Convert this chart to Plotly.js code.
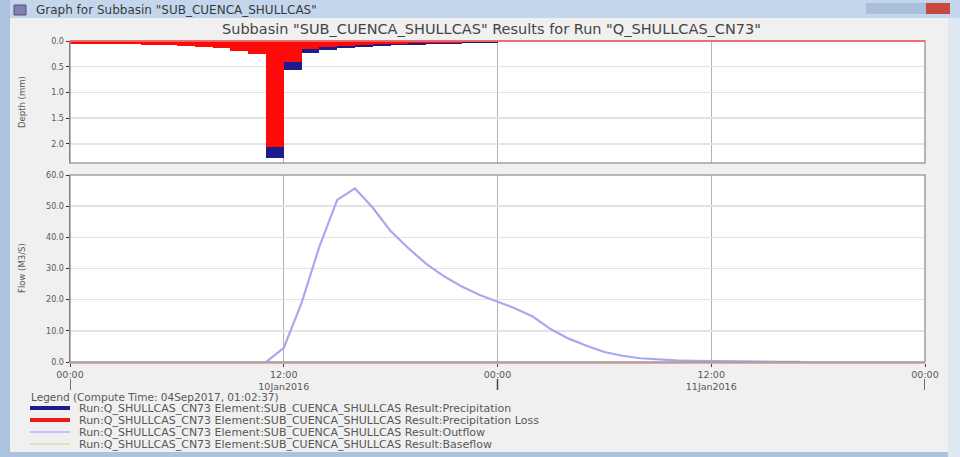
<!DOCTYPE html>
<html>
<head>
<meta charset="utf-8">
<script src="https://cdn.plot.ly/plotly-3.0.1.min.js"></script>
<style>
  html, body { margin: 0; padding: 0; background: #f0f0f0; }
  #chart { width: 960px; height: 457px; }
</style>
</head>
<body>
<div id="chart"></div>
<script>
// Hourly precipitation and precipitation loss (mm), hour 0 = 10Jan2016 00:00
const precipHours = [0, 1, 2, 3, 4, 5, 6, 7, 8, 9, 10, 11, 12, 13, 14, 15, 16, 17, 18, 19, 20, 21, 22, 23];
const precipitation = [0.05, 0.05, 0.06, 0.06, 0.07, 0.08, 0.09, 0.11, 0.14, 0.19, 0.26, 2.27,
                       0.56, 0.23, 0.17, 0.13, 0.11, 0.09, 0.08, 0.07, 0.06, 0.05, 0.04, 0.03];
const precipLoss    = [0.05, 0.05, 0.06, 0.06, 0.07, 0.08, 0.09, 0.11, 0.14, 0.19, 0.26, 2.05,
                       0.40, 0.15, 0.12, 0.09, 0.07, 0.06, 0.05, 0.045, 0.04, 0.03, 0.025, 0.02];

// Outflow hydrograph (m3/s)
const flowHours = [11, 12, 13, 14, 15, 16, 17, 18, 19, 20, 21, 22, 23, 24, 25, 26,
                   27, 28, 29, 30, 31, 32, 33, 34, 35, 36, 37, 38, 39, 40, 41];
const outflow = [0, 4.5, 19.0, 37.0, 52.0, 55.7, 49.5, 42.0, 36.5, 31.5, 27.5, 24.2, 21.5, 19.3, 17.2, 14.5,
                 10.5, 7.5, 5.2, 3.2, 2.0, 1.2, 0.8, 0.5, 0.35, 0.25, 0.18, 0.12, 0.08, 0.05, 0.03];

// Baseflow (m3/s)
const baseflowHours = [0, 48];
const baseflow = [0, 0];

// Axis ticks
const timeTicks = [0, 12, 24, 36, 48];
const timeLabels = ['00:00', '12:00<br>10Jan2016', '00:00', '12:00<br>11Jan2016', '00:00'];
const dayBoundaries = [0, 24, 48];
const depthTicks = [0, 0.5, 1.0, 1.5, 2.0];
const depthLabels = ['0.0', '0.5', '1.0', '1.5', '2.0'];
const flowTicks = [0, 10, 20, 30, 40, 50, 60];
const flowLabels = ['0.0', '10.0', '20.0', '30.0', '40.0', '50.0', '60.0'];

const runName = 'Run:Q_SHULLCAS_CN73 Element:SUB_CUENCA_SHULLCAS Result:';
const legendItems = ['Precipitation', 'Precipitation Loss', 'Outflow', 'Baseflow'];
const legendColors = ['#1c1c8c', '#f01818', '#b4b4f0', '#dcdcaa'];
const legendWidths = [4, 4, 1.5, 1.5];

// ---- helpers ----
const W = 960, H = 457;
const px = x => x / W;
const py = y => 1 - y / H;
const T0 = Date.UTC(2016, 0, 10);
const at = h => new Date(T0 + h * 3600000).toISOString().replace('T', ' ').slice(0, 19);

const FONT = 'DejaVu Sans, Verdana, sans-serif';
const TXT = '#585858';

const traces = [
  {
    type: 'bar', x: precipHours.map(h => at(h + 0.5)), y: precipitation,
    width: 3600000, marker: { color: '#1c1c8c', line: { width: 0 } },
    xaxis: 'x', yaxis: 'y', name: 'Precipitation', hoverinfo: 'x+y'
  },
  {
    type: 'bar', x: precipHours.map(h => at(h + 0.5)), y: precipLoss,
    width: 3600000, marker: { color: '#ff0a0a', line: { width: 0 } },
    xaxis: 'x', yaxis: 'y', name: 'Precipitation Loss', hoverinfo: 'x+y'
  },
  {
    type: 'scatter', mode: 'lines', x: baseflowHours.map(at), y: baseflow,
    line: { color: '#dcdcaa', width: 1 }, xaxis: 'x2', yaxis: 'y2', name: 'Baseflow'
  },
  {
    type: 'scatter', mode: 'lines', x: flowHours.map(at), y: outflow,
    line: { color: '#a8a8ee', width: 2.2 }, xaxis: 'x2', yaxis: 'y2', name: 'Outflow'
  }
];

const xCommon = {
  type: 'date', range: [at(0), at(48)], domain: [px(70), px(925)],
  tickvals: timeTicks.map(at), showgrid: true, gridcolor: '#b4b4b4', gridwidth: 1,
  zeroline: false, fixedrange: true
};

const shapes = [
  // window chrome
  { type: 'rect', xref: 'paper', yref: 'paper', x0: 0, x1: 1, y0: py(18), y1: 1, fillcolor: '#c4d6ec', line: { width: 0 }, layer: 'below' },
  { type: 'rect', xref: 'paper', yref: 'paper', x0: 0, x1: px(10), y0: 0, y1: 1, fillcolor: '#abc3df', line: { width: 0 }, layer: 'below' },
  { type: 'rect', xref: 'paper', yref: 'paper', x0: 0, x1: 1, y0: 0, y1: py(452), fillcolor: '#abc3df', line: { width: 0 }, layer: 'below' },
  { type: 'rect', xref: 'paper', yref: 'paper', x0: px(948), x1: 1, y0: 0, y1: py(18), fillcolor: '#dfe7f1', line: { width: 0 }, layer: 'below' },
  { type: 'rect', xref: 'paper', yref: 'paper', x0: px(866), x1: px(926), y0: py(14), y1: py(3), fillcolor: '#a9bfdc', line: { width: 0 }, layer: 'below' },
  { type: 'rect', xref: 'paper', yref: 'paper', x0: px(926), x1: px(950), y0: py(14), y1: py(3), fillcolor: '#c8473e', line: { width: 0 }, layer: 'below' },
  { type: 'rect', xref: 'paper', yref: 'paper', x0: px(14), x1: px(26), y0: py(15), y1: py(5), fillcolor: '#7f7fb0', line: { color: '#505080', width: 1 }, layer: 'below' },
  // plot frames
  { type: 'rect', xref: 'paper', yref: 'paper', x0: px(70), x1: px(925), y0: py(163), y1: py(41), line: { color: '#a0a0a0', width: 1.5 }, layer: 'above' },
  { type: 'rect', xref: 'paper', yref: 'paper', x0: px(70), x1: px(925), y0: py(362), y1: py(175), line: { color: '#a0a0a0', width: 1.5 }, layer: 'above' },
  // zero line of the depth panel
  { type: 'line', xref: 'paper', yref: 'paper', x0: px(70), x1: px(925), y0: py(41), y1: py(41), line: { color: '#ff5a5a', width: 1.5 }, layer: 'above' }
];

// day separators below the time axis
dayBoundaries.forEach(h => {
  shapes.push({ type: 'line', xref: 'x2', yref: 'paper', x0: at(h), x1: at(h), y0: py(390), y1: py(379), line: { color: '#444', width: 1.5 } });
});

// legend line samples
const legendY = [408, 420, 432, 444];
legendItems.forEach((item, i) => {
  shapes.push({ type: 'line', xref: 'paper', yref: 'paper', x0: px(30), x1: px(70), y0: py(legendY[i]), y1: py(legendY[i]),
                line: { color: legendColors[i], width: legendWidths[i] } });
});

const annotations = [
  { text: 'Graph for Subbasin "SUB_CUENCA_SHULLCAS"', xref: 'paper', yref: 'paper', x: px(34), y: py(10), xanchor: 'left', yanchor: 'middle',
    showarrow: false, font: { family: FONT, size: 12, color: '#3a3a3a' } },
  { text: 'Subbasin "SUB_CUENCA_SHULLCAS" Results for Run "Q_SHULLCAS_CN73"', xref: 'paper', yref: 'paper', x: px(491), y: py(29), xanchor: 'center', yanchor: 'middle',
    showarrow: false, font: { family: FONT, size: 14.5, color: '#444' } },
  { text: 'Depth (mm)', xref: 'paper', yref: 'paper', x: px(22), y: py(102), textangle: -90, xanchor: 'center', yanchor: 'middle',
    showarrow: false, font: { family: FONT, size: 8.5, color: TXT } },
  { text: 'Flow (M3/S)', xref: 'paper', yref: 'paper', x: px(22), y: py(268), textangle: -90, xanchor: 'center', yanchor: 'middle',
    showarrow: false, font: { family: FONT, size: 8.5, color: TXT } },
  { text: 'Legend (Compute Time: 04Sep2017, 01:02:37)', xref: 'paper', yref: 'paper', x: px(29), y: py(397), xanchor: 'left', yanchor: 'middle',
    showarrow: false, font: { family: FONT, size: 10.5, color: TXT } }
];
legendItems.forEach((item, i) => {
  annotations.push({ text: runName + item, xref: 'paper', yref: 'paper', x: px(77), y: py(legendY[i]), xanchor: 'left', yanchor: 'middle',
                     showarrow: false, font: { family: FONT, size: 11, color: TXT } });
});

const layout = {
  width: W, height: H,
  margin: { l: 0, r: 0, t: 0, b: 0, pad: 0 },
  paper_bgcolor: '#f0f0f0', plot_bgcolor: '#ffffff',
  showlegend: false, barmode: 'overlay', bargap: 0,
  font: { family: FONT, size: 8, color: TXT },
  xaxis: Object.assign({}, xCommon, { anchor: 'y', showticklabels: false, ticks: '' }),
  xaxis2: Object.assign({}, xCommon, {
    anchor: 'y2', matches: 'x', ticktext: timeLabels, ticks: 'outside', ticklen: 3, tickcolor: '#444',
    showline: true, linecolor: '#dcaaaa', linewidth: 1.5,
    tickfont: { family: FONT, size: 9.5, color: TXT }
  }),
  yaxis: {
    domain: [py(163), py(41)], range: [2.37, 0], anchor: 'x',
    tickvals: depthTicks, ticktext: depthLabels, ticks: 'outside', ticklen: 3, tickcolor: '#333',
    showline: true, linecolor: '#333', linewidth: 1.5, gridcolor: '#e3e3e3', gridwidth: 1.5,
    zeroline: false, tickfont: { family: FONT, size: 8, color: TXT }, fixedrange: true
  },
  yaxis2: {
    domain: [py(362), py(175)], range: [0, 60], anchor: 'x2',
    tickvals: flowTicks, ticktext: flowLabels, ticks: 'outside', ticklen: 3, tickcolor: '#333',
    showline: true, linecolor: '#333', linewidth: 1.5, gridcolor: '#e3e3e3', gridwidth: 1.5,
    zeroline: false, tickfont: { family: FONT, size: 8, color: TXT }, fixedrange: true
  },
  shapes: shapes,
  annotations: annotations
};

Plotly.newPlot('chart', traces, layout, { displayModeBar: false, staticPlot: true });
</script>
</body>
</html>
